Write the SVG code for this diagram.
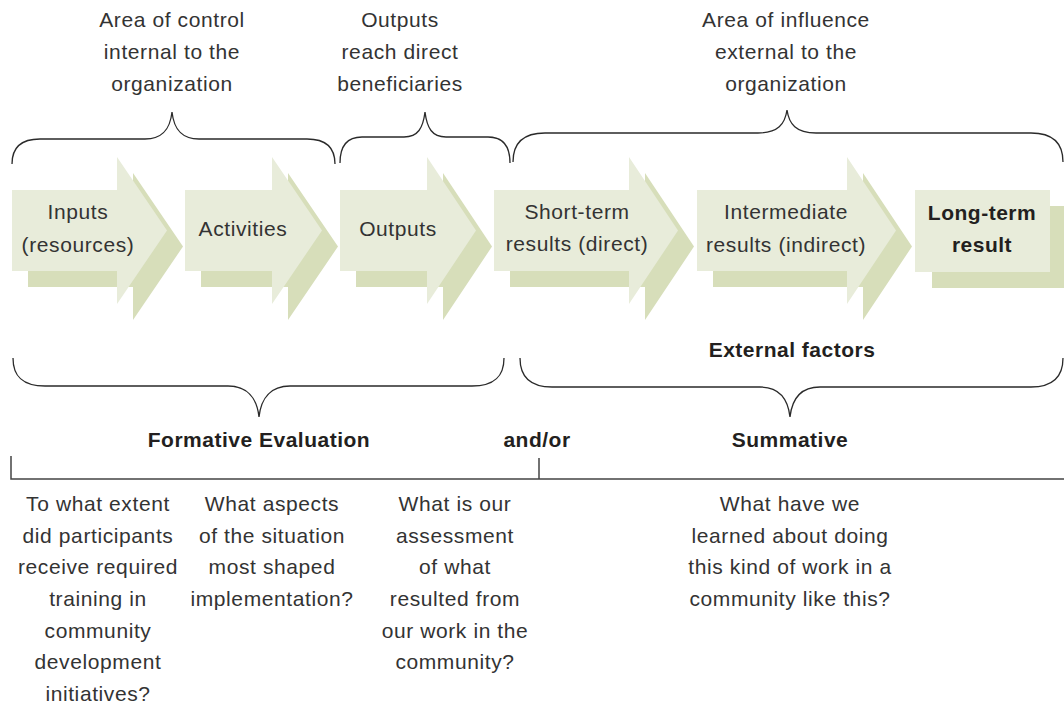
<svg xmlns="http://www.w3.org/2000/svg" width="1064" height="710" viewBox="0 0 1064 710">
<style>
.t{font-family:"Liberation Sans",Arial,sans-serif;font-size:21px;fill:#333;letter-spacing:0.6px;text-anchor:middle}
.b{font-family:"Liberation Sans",Arial,sans-serif;font-size:21px;font-weight:bold;fill:#231f20;letter-spacing:0.5px;text-anchor:middle}
.fr{fill:#e8ecda}
.bk{fill:#d7deba}
.br{fill:none;stroke:#2a2a2a;stroke-width:1.3}
.ln{fill:none;stroke:#444;stroke-width:1.5}
</style>
<rect width="1064" height="710" fill="#fff"/>

<g id="label-control">
<text class="t" x="172" y="27">Area of control</text>
<text class="t" x="172" y="59">internal to the</text>
<text class="t" x="172" y="91">organization</text>
</g>
<g id="label-outputs">
<text class="t" x="400" y="27">Outputs</text>
<text class="t" x="400" y="59">reach direct</text>
<text class="t" x="400" y="91">beneficiaries</text>
</g>
<g id="label-influence">
<text class="t" x="786" y="27">Area of influence</text>
<text class="t" x="786" y="59">external to the</text>
<text class="t" x="786" y="91">organization</text>
</g>

<g id="node-inputs">
<path class="bk" d="M28,206 H133 V173 L183,246.5 L133,320 V287 H28 Z"/>
<path class="fr" d="M12,190 H117 V157 L167,230.5 L117,304 V271 H12 Z"/>
<text class="t" x="78" y="219">Inputs</text>
<text class="t" x="78" y="252">(resources)</text>
</g>
<g id="node-activities">
<path class="bk" d="M201,206 H288 V173 L338,246.5 L288,320 V287 H201 Z"/>
<path class="fr" d="M185,190 H272 V157 L322,230.5 L272,304 V271 H185 Z"/>
<text class="t" x="243" y="236">Activities</text>
</g>
<g id="node-outputs">
<path class="bk" d="M356,206 H443 V173 L492,246.5 L443,320 V287 H356 Z"/>
<path class="fr" d="M340,190 H427 V157 L476,230.5 L427,304 V271 H340 Z"/>
<text class="t" x="398" y="236">Outputs</text>
</g>
<g id="node-short">
<path class="bk" d="M510,206 H645 V173 L694,246.5 L645,320 V287 H510 Z"/>
<path class="fr" d="M494,190 H629 V157 L678,230.5 L629,304 V271 H494 Z"/>
<text class="t" x="577" y="219">Short-term</text>
<text class="t" x="577" y="251">results (direct)</text>
</g>
<g id="node-intermediate">
<path class="bk" d="M713,206 H863 V173 L912,246.5 L863,320 V287 H713 Z"/>
<path class="fr" d="M697,190 H847 V157 L896,230.5 L847,304 V271 H697 Z"/>
<text class="t" x="786" y="219">Intermediate</text>
<text class="t" x="786" y="252">results (indirect)</text>
</g>
<g id="node-longterm">
<rect class="bk" x="932" y="206" width="134" height="82"/>
<rect class="fr" x="915" y="190" width="135" height="82"/>
<text class="b" x="982" y="220">Long-term</text>
<text class="b" x="982" y="252">result</text>
</g>

<g id="connectors">
<path class="br" d="M12,164 C12,148 20,139 40,139 L145,139 C162,139 170,130 172,112 C174,130 182,139 199,139 L307,139 C327,139 335,148 335,164"/>
<path class="br" d="M340,163 C340,147 346,137 362,137 L404,137 C418,137 423,128 425,112 C427,128 432,137 446,137 L488,137 C504,137 510,147 510,163"/>
<path class="br" d="M513,162 C513,144 522,133 545,133 L758,133 C778,133 785,124 787,110 C789,124 796,133 816,133 L1031,133 C1054,133 1063,144 1063,162"/>
<path class="br" d="M13,358 C13,376 22,386 45,386 L228,386 C247,386 257,398 259,417 C261,398 271,386 290,386 L472,386 C495,386 504,376 504,358"/>
<path class="br" d="M520,358 C520,376 529,387 552,387 L760,387 C779,387 788,399 790,417 C792,399 801,387 820,387 L1031,387 C1054,387 1063,376 1063,358"/>
<path class="ln" d="M11,456 V479 H1064 M539,458 V479"/>
</g>

<g id="label-external">
<text class="b" x="792" y="357">External factors</text>
</g>
<g id="label-formative">
<text class="b" x="259" y="447">Formative Evaluation</text>
</g>
<g id="label-andor">
<text class="b" x="537" y="447">and/or</text>
</g>
<g id="label-summative">
<text class="b" x="790" y="447">Summative</text>
</g>

<g id="q1">
<text class="t" x="98" y="511">To what extent</text>
<text class="t" x="98" y="543">did participants</text>
<text class="t" x="98" y="574">receive required</text>
<text class="t" x="98" y="606">training in</text>
<text class="t" x="98" y="638">community</text>
<text class="t" x="98" y="669">development</text>
<text class="t" x="98" y="701">initiatives?</text>
</g>
<g id="q2">
<text class="t" x="272" y="511">What aspects</text>
<text class="t" x="272" y="543">of the situation</text>
<text class="t" x="272" y="574">most shaped</text>
<text class="t" x="272" y="606">implementation?</text>
</g>
<g id="q3">
<text class="t" x="455" y="511">What is our</text>
<text class="t" x="455" y="543">assessment</text>
<text class="t" x="455" y="574">of what</text>
<text class="t" x="455" y="606">resulted from</text>
<text class="t" x="455" y="638">our work in the</text>
<text class="t" x="455" y="669">community?</text>
</g>
<g id="q4">
<text class="t" x="790" y="511">What have we</text>
<text class="t" x="790" y="543">learned about doing</text>
<text class="t" x="790" y="574">this kind of work in a</text>
<text class="t" x="790" y="606">community like this?</text>
</g>
</svg>
